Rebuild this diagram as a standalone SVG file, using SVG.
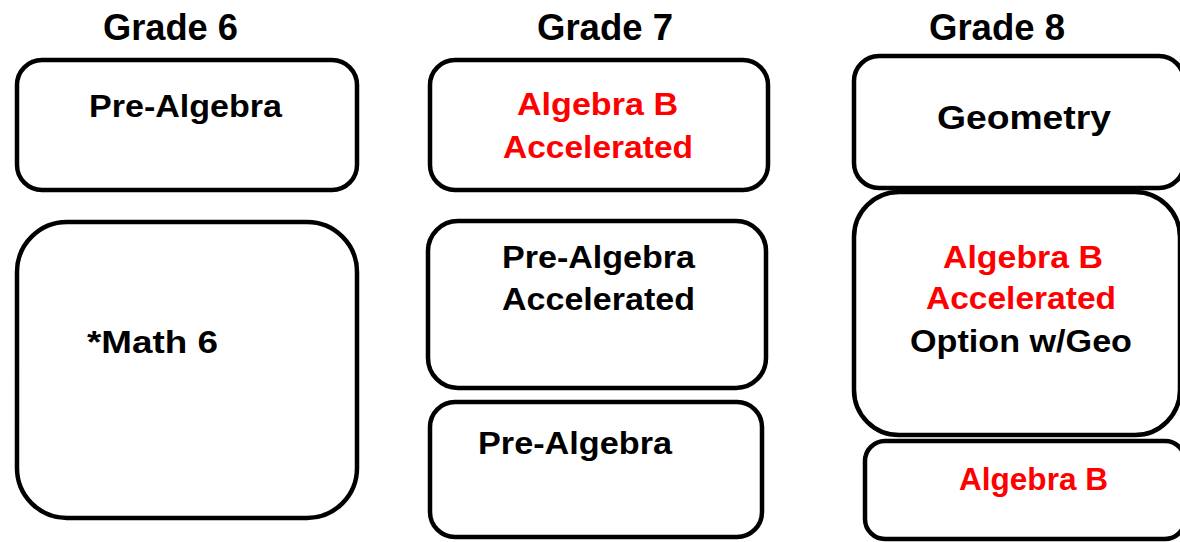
<svg xmlns="http://www.w3.org/2000/svg" width="1180" height="542" viewBox="0 0 1180 542">
<style>
.box{fill:#fff;stroke:#000;stroke-width:4.5}
.h{font-family:"Liberation Sans",Arial,sans-serif;font-weight:bold;font-size:36px;fill:#000}
.t{font-family:"Liberation Sans",Arial,sans-serif;font-weight:bold;font-size:31px;fill:#000}
.r{fill:#ff0000}
</style>
<rect width="1180" height="542" fill="#fff"/>
<g id="headings">
<text class="h" x="103" y="40" textLength="135" lengthAdjust="spacingAndGlyphs">Grade 6</text>
<text class="h" x="537" y="40" textLength="136" lengthAdjust="spacingAndGlyphs">Grade 7</text>
<text class="h" x="929" y="40" textLength="136" lengthAdjust="spacingAndGlyphs">Grade 8</text>
</g>
<g id="connectors"></g>
<g id="g6-prealgebra">
<rect class="box" x="17" y="60" width="340" height="130" rx="25"/>
<text class="t" x="89" y="117" textLength="193" lengthAdjust="spacingAndGlyphs">Pre-Algebra</text>
</g>
<g id="g6-math6">
<rect class="box" x="17" y="222" width="340" height="296" rx="50"/>
<text class="t" x="87" y="353" textLength="131" lengthAdjust="spacingAndGlyphs">*Math 6</text>
</g>
<g id="g7-algbacc">
<rect class="box" x="430" y="60" width="338" height="130" rx="25"/>
<text class="t r" x="517" y="115" textLength="161" lengthAdjust="spacingAndGlyphs">Algebra B</text>
<text class="t r" x="503" y="158" textLength="190" lengthAdjust="spacingAndGlyphs">Accelerated</text>
</g>
<g id="g7-preacc">
<rect class="box" x="428" y="221" width="338" height="167" rx="30"/>
<text class="t" x="502" y="268" textLength="193" lengthAdjust="spacingAndGlyphs">Pre-Algebra</text>
<text class="t" x="502" y="310" textLength="193" lengthAdjust="spacingAndGlyphs">Accelerated</text>
</g>
<g id="g7-prealgebra">
<rect class="box" x="430" y="402" width="332" height="135" rx="25"/>
<text class="t" x="478" y="454" textLength="194" lengthAdjust="spacingAndGlyphs">Pre-Algebra</text>
</g>
<g id="g8-geometry">
<rect class="box" x="854" y="56" width="330" height="132" rx="25"/>
<text class="t" x="937" y="129" textLength="174" lengthAdjust="spacingAndGlyphs" style="font-size:33px">Geometry</text>
</g>
<g id="g8-algbacc">
<rect class="box" x="854" y="192" width="326" height="243" rx="45"/>
<text class="t r" x="943" y="268" textLength="160" lengthAdjust="spacingAndGlyphs">Algebra B</text>
<text class="t r" x="926" y="309" textLength="190" lengthAdjust="spacingAndGlyphs">Accelerated</text>
<text class="t" x="910" y="352" textLength="222" lengthAdjust="spacingAndGlyphs">Option w/Geo</text>
</g>
<g id="g8-algb">
<rect class="box" x="865" y="441" width="320" height="98" rx="20"/>
<text class="t r" x="959" y="490" textLength="149" lengthAdjust="spacingAndGlyphs">Algebra B</text>
</g>
</svg>
